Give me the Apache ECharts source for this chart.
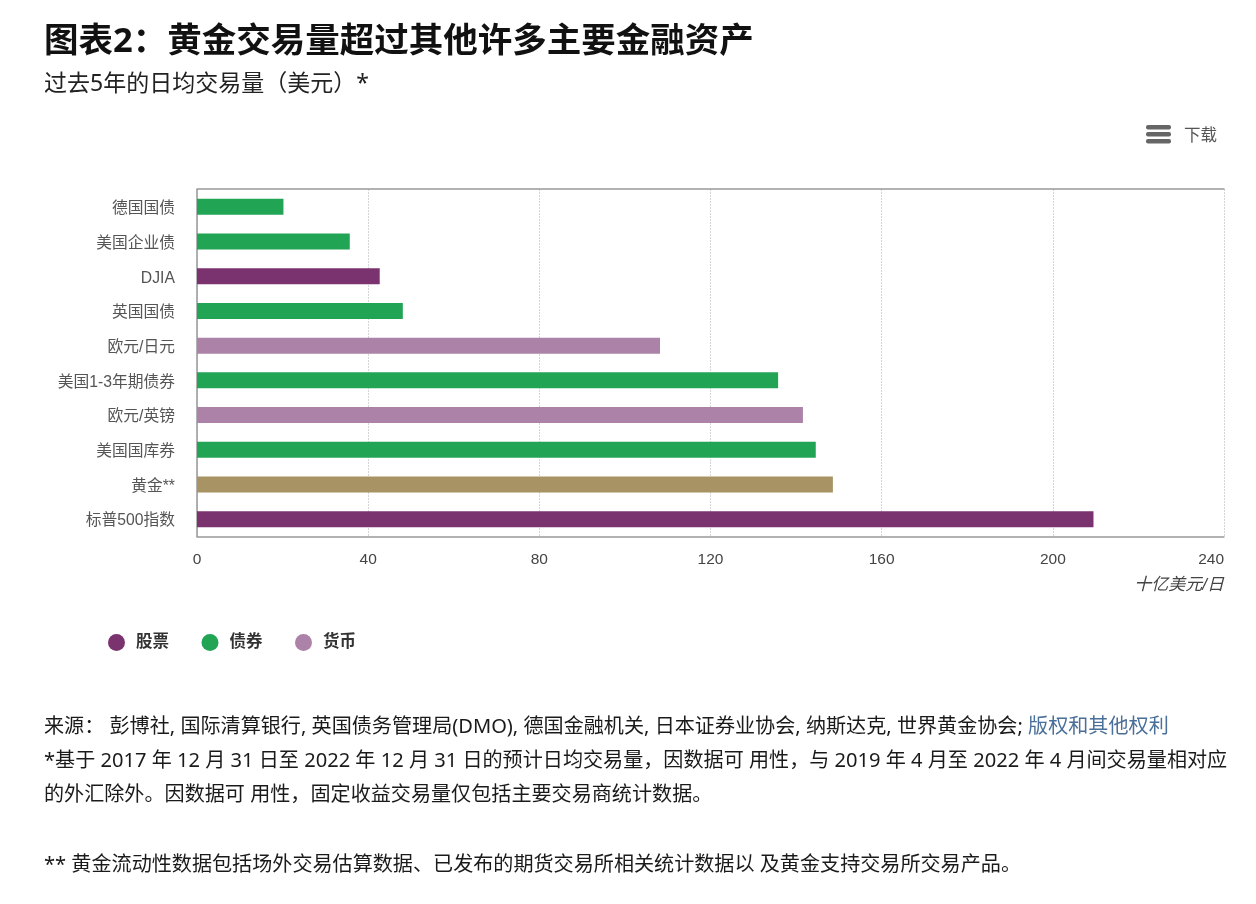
<!DOCTYPE html>
<html>
<head>
    <meta charset="utf-8" />
    <script src="https://cdn.jsdelivr.net/npm/echarts@6/dist/echarts.min.js"></script>
    <style>
        body { margin: 0; overflow: hidden; background: #fff; }
        #main { width: 1256px; height: 904px; }
    </style>
</head>
<body>
    <div id="main"></div>
<script type="text/javascript">
    var categories = ['德国国债', '美国企业债', 'DJIA', '英国国债', '欧元/日元', '美国1-3年期债券', '欧元/英镑', '美国国库券', '黄金**', '标普500指数'];
    var stocks   = [null, null, 42.7, null, null, null, null, null, null, 209.5];
    var bonds    = [20.2, 35.7, null, 48.1, null, 135.8, null, 144.6, null, null];
    var currency = [null, null, null, null, 108.2, null, 141.6, null, null, null];
    var gold     = [null, null, null, null, null, null, null, null, 148.6, null];
    var xTicks = { min: 0, max: 240, interval: 40 };

    var cjk = '"Noto Sans", "Noto Sans CJK SC", sans-serif';
    var helv = '"Liberation Sans", "Noto Sans CJK SC", sans-serif';

    function textLine(text, left, top, size, color, extra) {
        return {
            text: text, left: left, top: top, padding: 0,
            textStyle: Object.assign({ fontFamily: cjk, fontSize: size, fontWeight: 'normal', color: color }, extra || {})
        };
    }

    function barSeries(name, values, color) {
        return {
            name: name, type: 'bar', stack: 'volume', data: values, barWidth: 16,
            itemStyle: { color: color }
        };
    }

    var chart = echarts.init(document.getElementById('main'));
    chart.setOption({
        animation: false,
        backgroundColor: '#ffffff',
        title: [
            textLine('图表2：黄金交易量超过其他许多主要金融资产', 44, 25, 34.5, '#111', { fontWeight: 'bold' }),
            textLine('过去5年的日均交易量（美元）*', 44, 73, 23, '#222'),
            textLine('下载', 1184, 128, 16.5, '#555'),
            textLine('来源： 彭博社, 国际清算银行, 英国债务管理局(DMO), 德国金融机关, 日本证券业协会, 纳斯达克, 世界黄金协会; {link|版权和其他权利}', 44, 717, 20.1, '#1a1a1a', {
                rich: { link: { fontFamily: cjk, fontSize: 20.1, color: '#4a6f99' } }
            }),
            textLine('*基于 2017 年 12 月 31 日至 2022 年 12 月 31 日的预计日均交易量，因数据可 用性，与 2019 年 4 月至 2022 年 4 月间交易量相对应', 44, 751, 20.1, '#1a1a1a'),
            textLine('的外汇除外。因数据可 用性，固定收益交易量仅包括主要交易商统计数据。', 44, 785, 20.1, '#1a1a1a'),
            textLine('** 黄金流动性数据包括场外交易估算数据、已发布的期货交易所相关统计数据以 及黄金支持交易所交易产品。', 44, 855, 20.1, '#1a1a1a')
        ],
        legend: {
            data: ['股票', '债券', '货币'],
            left: 108, top: 634, padding: 0,
            icon: 'circle', itemWidth: 17, itemHeight: 17, itemGap: 32.5,
            selectedMode: false,
            textStyle: { fontFamily: cjk, fontSize: 16.5, fontWeight: 'bold', color: '#333', padding: [2, 0, 0, 6] }
        },
        grid: { left: 197, top: 189.5, width: 1027, height: 347, containLabel: false },
        xAxis: [
            {
                type: 'value', min: xTicks.min, max: xTicks.max, interval: xTicks.interval,
                name: '十亿美元/日', nameLocation: 'end', nameGap: 0,
                nameTextStyle: {
                    fontFamily: helv, fontSize: 17, fontStyle: 'italic', color: '#444',
                    align: 'right', verticalAlign: 'top', padding: [40, 0, 0, 0]
                },
                axisLine: { show: true, lineStyle: { color: '#999', width: 1.5 } },
                axisTick: { show: false },
                axisLabel: { fontFamily: helv, fontSize: 15.5, color: '#444', margin: 15, alignMaxLabel: 'right' },
                splitLine: { show: true, lineStyle: { color: '#aaa', type: [1, 2], width: 1 } }
            },
            {
                // 顶部边框线
                type: 'value', position: 'top', offset: 1, min: xTicks.min, max: xTicks.max, interval: xTicks.interval,
                axisLine: { show: true, lineStyle: { color: '#999', width: 1.5 } },
                axisTick: { show: false },
                axisLabel: { show: false },
                splitLine: { show: false }
            }
        ],
        yAxis: {
            type: 'category', data: categories, inverse: true,
            axisLine: { show: true, lineStyle: { color: '#999', width: 1.5 } },
            axisTick: { show: false },
            axisLabel: { fontFamily: helv, fontSize: 15.75, color: '#555', margin: 22, verticalAlign: 'top', lineHeight: 4 },
            splitLine: { show: false }
        },
        series: [
            barSeries('股票', stocks, '#7b3370'),
            barSeries('债券', bonds, '#22a455'),
            barSeries('货币', currency, '#ad82a8'),
            barSeries('黄金', gold, '#a79364')
        ],
        graphic: [
            // 下载菜单图标
            { type: 'rect', left: 1146, top: 125, shape: { width: 25, height: 4.5, r: 2 }, style: { fill: '#666' } },
            { type: 'rect', left: 1146, top: 132, shape: { width: 25, height: 4.5, r: 2 }, style: { fill: '#666' } },
            { type: 'rect', left: 1146, top: 139, shape: { width: 25, height: 4.5, r: 2 }, style: { fill: '#666' } }
        ]
    });
</script>
</body>
</html>
